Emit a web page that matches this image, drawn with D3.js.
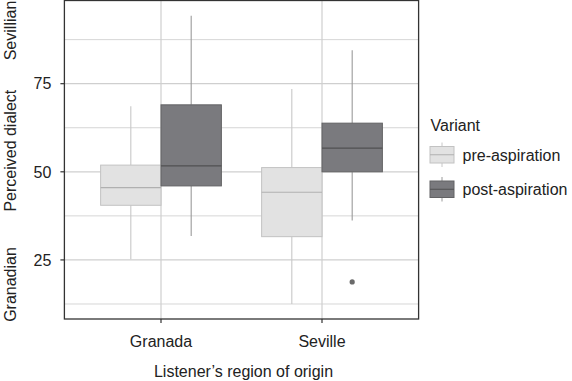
<!DOCTYPE html>
<html><head><meta charset="utf-8">
<script src="https://cdn.jsdelivr.net/npm/d3@7"></script>
<style>body{margin:0;background:#fff;} text{font-family:"Liberation Sans",Arial,sans-serif;}</style>
</head><body>
<script>
const regions = ["Granada", "Seville"];
const variants = ["pre-aspiration", "post-aspiration"];
// [region, variant, lowerWhisker, q1, median, q3, upperWhisker]
const boxStats = [
  ["Granada", "pre-aspiration", 25.2, 40.5, 45.5, 51.9, 68.6],
  ["Granada", "post-aspiration", 31.8, 46.0, 51.7, 69.0, 94.3],
  ["Seville", "pre-aspiration", 12.5, 31.6, 44.2, 51.2, 73.5],
  ["Seville", "post-aspiration", 36.2, 50.0, 56.7, 63.8, 84.5]
];
const outliers = [["Seville", "post-aspiration", 18.75]];
const yTicks = [25, 50, 75];
const yMinor = [12.5, 37.5, 62.5, 87.5];
const yEndLabels = ["Granadian", "Perceived dialect", "Sevillian"];

const W = 572, H = 381;
const L = 64.4, R = 418.6, T = 0.5, B = 319;
const fill = {"pre-aspiration": "#e2e2e2", "post-aspiration": "#7a7a7e"};
const stroke = {"pre-aspiration": "#c2c2c2", "post-aspiration": "#626264"};
const whisk = {"pre-aspiration": "#c8c8c8", "post-aspiration": "#9a9a9a"};
const med = {"pre-aspiration": "#b0b0b0", "post-aspiration": "#505052"};

const svg = d3.select("body").append("svg").attr("width", W).attr("height", H);

const x = d3.scaleBand().domain(regions).range([L, R]).paddingInner(0.2 / 1.2 * 0 + 0).paddingOuter(0);
// emulate ggplot discrete expansion: category centers at L + 0.6u and L + 1.6u, u = (R-L)/2.2
const u = (R - L) / 2.2;
const cx = r => L + u * (0.6 + regions.indexOf(r));
const xd = d3.scaleBand().domain(variants).range([-0.375 * u, 0.375 * u]);
const y = d3.scaleLinear().domain([8.24, 98.6]).range([B, T]);

const g = svg.append("g");
// grid
g.selectAll(".minor").data(yMinor).join("line")
  .attr("x1", L).attr("x2", R).attr("y1", d => y(d)).attr("y2", d => y(d))
  .attr("stroke", "#d6d6d6").attr("stroke-width", 1);
g.selectAll(".major").data(yTicks).join("line")
  .attr("x1", L).attr("x2", R).attr("y1", d => y(d)).attr("y2", d => y(d))
  .attr("stroke", "#cfcfcf").attr("stroke-width", 1.2);
g.selectAll(".vmaj").data(regions).join("line")
  .attr("x1", d => cx(d)).attr("x2", d => cx(d)).attr("y1", T).attr("y2", B)
  .attr("stroke", "#cfcfcf").attr("stroke-width", 1.2);

// boxes
boxStats.forEach(([r, v, lo, q1, m, q3, hi]) => {
  const x0 = cx(r) + xd(v), bw = xd.bandwidth(), xm = x0 + bw / 2;
  g.append("line").attr("x1", xm).attr("x2", xm).attr("y1", y(hi)).attr("y2", y(q3))
    .attr("stroke", whisk[v]).attr("stroke-width", 1.1);
  g.append("line").attr("x1", xm).attr("x2", xm).attr("y1", y(q1)).attr("y2", y(lo))
    .attr("stroke", whisk[v]).attr("stroke-width", 1.1);
  g.append("rect").attr("x", x0).attr("width", bw).attr("y", y(q3)).attr("height", y(q1) - y(q3))
    .attr("fill", fill[v]).attr("stroke", stroke[v]).attr("stroke-width", 1);
  g.append("line").attr("x1", x0).attr("x2", x0 + bw).attr("y1", y(m)).attr("y2", y(m))
    .attr("stroke", med[v]).attr("stroke-width", 1.2);
});
outliers.forEach(([r, v, val]) => {
  g.append("circle").attr("cx", cx(r) + xd(v) + xd.bandwidth() / 2).attr("cy", y(val)).attr("r", 2.6)
    .attr("fill", "#6a6a6a");
});

// panel border
svg.append("rect").attr("x", L).attr("y", T).attr("width", R - L).attr("height", B - T)
  .attr("fill", "none").attr("stroke", "#333").attr("stroke-width", 1.3);

// y axis ticks
const yAxis = svg.append("g");
yTicks.forEach(t => {
  yAxis.append("line").attr("x1", L - 4).attr("x2", L).attr("y1", y(t)).attr("y2", y(t)).attr("stroke", "#333").attr("stroke-width", 1.2);
  yAxis.append("text").attr("x", L - 13).attr("y", y(t)).attr("dy", "0.36em").attr("text-anchor", "end")
    .attr("font-size", 16).attr("fill", "#222").text(t);
});
// x axis ticks
regions.forEach(r => {
  svg.append("line").attr("x1", cx(r)).attr("x2", cx(r)).attr("y1", B).attr("y2", B + 4).attr("stroke", "#333").attr("stroke-width", 1.2);
  svg.append("text").attr("x", cx(r)).attr("y", 341).attr("dy", "0.36em").attr("text-anchor", "middle")
    .attr("font-size", 16).attr("fill", "#222").text(r);
});
svg.append("text").attr("x", (L + R) / 2 + 2).attr("y", 371.5).attr("dy", "0.36em").attr("text-anchor", "middle")
  .attr("font-size", 16).attr("fill", "#222").text("Listener’s region of origin");

// y axis title pieces (rotated)
const yLabCenters = [284.5, 150.7, 30.5];
yEndLabels.forEach((t, i) => {
  svg.append("text").attr("transform", `translate(16,${yLabCenters[i]}) rotate(-90)`)
    .attr("text-anchor", "middle").attr("font-size", 16).attr("fill", "#222").text(t);
});

// legend
const lg = svg.append("g");
lg.append("text").attr("x", 430.5).attr("y", 125).attr("dy", "0.36em").attr("font-size", 16).attr("fill", "#222").text("Variant");
const keyY = [146.5, 181];
variants.forEach((v, i) => {
  const ky = keyY[i], kx = 430, kw = 24, kh = 16.5, km = kx + kw / 2;
  lg.append("line").attr("x1", km).attr("x2", km).attr("y1", ky - 4).attr("y2", ky + kh + 4).attr("stroke", whisk[v]).attr("stroke-width", 1);
  lg.append("rect").attr("x", kx).attr("y", ky).attr("width", kw).attr("height", kh)
    .attr("fill", fill[v]).attr("stroke", stroke[v]).attr("stroke-width", 1);
  lg.append("line").attr("x1", kx).attr("x2", kx + kw).attr("y1", ky + kh / 2).attr("y2", ky + kh / 2).attr("stroke", med[v]).attr("stroke-width", 1);
  lg.append("text").attr("x", 462.5).attr("y", ky + kh / 2).attr("dy", "0.36em").attr("font-size", 16).attr("fill", "#222").text(v);
});
</script>
</body></html>
